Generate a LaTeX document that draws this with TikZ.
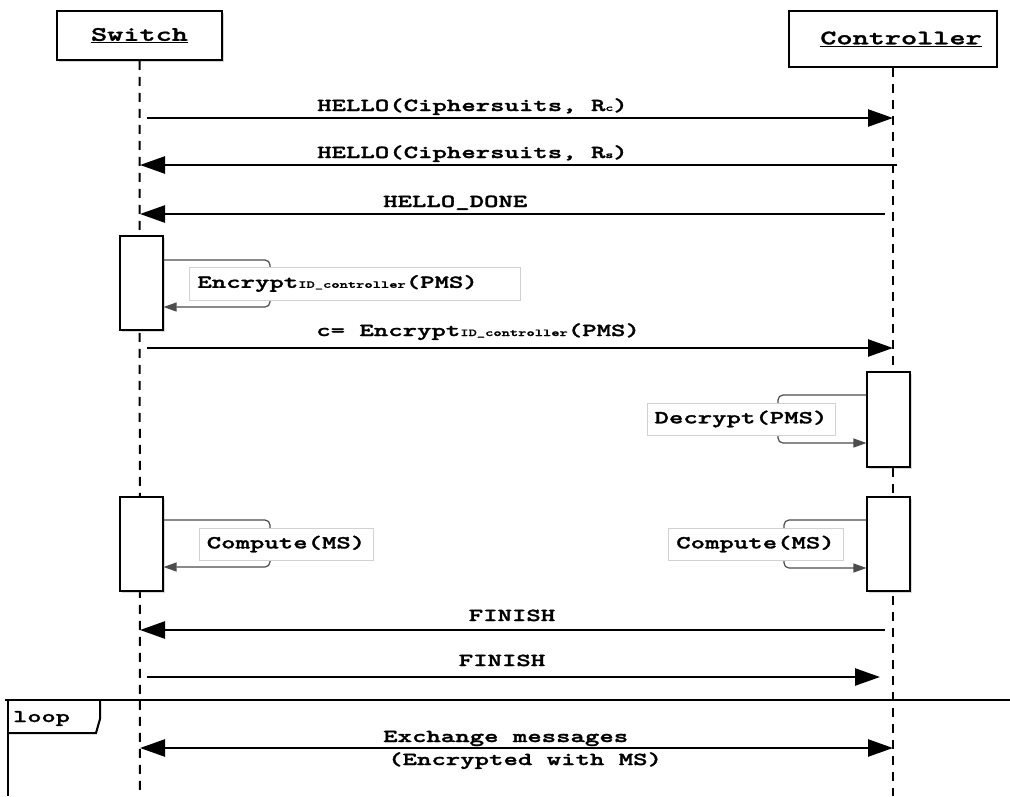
\documentclass[tikz,border=0pt]{standalone}
\usepackage{fontspec}
\newfontfamily\dmono[FakeStretch=1.5,FakeBold=1.6]{lmmonolt10-bold.otf}
\usetikzlibrary{arrows.meta,shadows}
\begin{document}
\begin{tikzpicture}[x=1pt,y=-1pt,
  lifeline/.style={line width=2pt, dash pattern=on 9pt off 7pt},
  msg/.style={line width=2.5pt, -{Triangle[length=25pt,width=17pt]}},
  dmsg/.style={line width=2.5pt, {Triangle[length=25pt,width=17pt]}-{Triangle[length=25pt,width=17pt]}},
  msglbl/.style={font=\dmono\fontsize{18.3}{21}\selectfont, inner sep=0pt},
  actor/.style={draw, line width=1.6pt, fill=white, inner sep=0pt, font=\dmono\fontsize{20.5}{23}\selectfont},
  actbox/.style={draw, line width=1.1pt, fill=white, inner sep=0pt, minimum width=43pt,
     drop shadow={shadow xshift=1.5pt, shadow yshift=-1.5pt, opacity=0.3}},
  selfcall/.style={line width=1.2pt, draw=black!70, rounded corners=5pt, -{Triangle[length=13pt,width=9pt]}},
  note/.style={draw=black!18, line width=0.8pt, fill=white, inner sep=0pt, minimum height=32pt,
     font=\dmono\fontsize{18.3}{21}\selectfont}
]
\useasboundingbox (0,0) rectangle (1010,796);
\fill[white] (0,0) rectangle (1010,796);

% actors
\node[actor, minimum width=165pt, minimum height=49pt,
      drop shadow={shadow xshift=1.5pt, shadow yshift=-1.5pt, opacity=0.35}] (sw) at (139.5,35.5) {\underline{Switch}};
\node[actor, minimum width=208pt, minimum height=56pt] (ct) at (893,39) {\hspace*{16pt}\underline{Controller}};

% lifelines
\coordinate (swend) at (140,796);
\coordinate (ctend) at (893,796);
\draw[lifeline] (sw.south) -- (swend);
\draw[lifeline] (ct.south) -- (ctend);

% message anchor points
\coordinate (s1) at (147,118);  \coordinate (c1) at (893,118);
\coordinate (s2) at (140,165);  \coordinate (c2) at (897,165);
\coordinate (s3) at (140,214);  \coordinate (c3) at (885,214);
\coordinate (s4) at (147,348);  \coordinate (c4) at (893,348);
\coordinate (s5) at (140,630);  \coordinate (c5) at (885,630);
\coordinate (s6) at (147,677);  \coordinate (c6) at (880,677);
\coordinate (s7) at (140,748);  \coordinate (c7) at (893,748);

\draw[msg] (s1) -- (c1);
\node[msglbl, anchor=base west] (l1) at (317,111) {HELLO(Ciphersuits, R{\fontsize{10}{10}\selectfont c})};
\draw[msg] (c2) -- (s2);
\node[msglbl, anchor=base west] (l2) at (317,158) {HELLO(Ciphersuits, R{\fontsize{10}{10}\selectfont s})};
\draw[msg] (c3) -- (s3);
\node[msglbl, anchor=base west] (l3) at (383,207) {HELLO\_DONE};

% switch activation 1
\node[actbox, minimum height=94pt] (sa1) at (141.5,283) {};
\draw[selfcall] ([yshift=23pt]sa1.east) -- (270,260) -- (270,307) -- ([yshift=-24pt]sa1.east);
\node[note, anchor=west, text width=315pt, inner xsep=8pt, align=left, minimum height=33pt] (n1) at (189,283.5)
  {Encrypt{\fontsize{10.5}{11}\selectfont ID\_controller}(PMS)};

\draw[msg] (s4) -- (c4);
\node[msglbl, anchor=base west] (l4) at (316,336) {c= Encrypt{\fontsize{10.5}{11}\selectfont ID\_controller}(PMS)};

% controller activation 1
\node[actbox, minimum height=95pt] (ca1) at (888.5,419.5) {};
\draw[selfcall] ([yshift=24.5pt]ca1.west) -- (778,395) -- (778,443) -- ([yshift=-23.5pt]ca1.west);
\node[note, minimum width=188pt] (n2) at (741,419) {Decrypt(PMS)};

% activation 2
\node[actbox, minimum height=94pt] (sa2) at (141.5,544) {};
\draw[selfcall] ([yshift=24pt]sa2.east) -- (270,520) -- (270,567) -- ([yshift=-23pt]sa2.east);
\node[note, minimum width=174pt] (n3) at (286,544) {Compute(MS)};

\node[actbox, minimum height=94pt] (ca2) at (888.5,544) {};
\draw[selfcall] ([yshift=24pt]ca2.west) -- (784,520) -- (784,568) -- ([yshift=-24pt]ca2.west);
\node[note, minimum width=175pt] (n4) at (755.5,544) {Compute(MS)};

% finish
\draw[msg] (c5) -- (s5);
\node[msglbl, anchor=base] (l5) at (512,621) {FINISH};
\draw[msg] (s6) -- (c6);
\node[msglbl, anchor=base] (l6) at (502,666) {FINISH};

% loop frame
\draw[line width=2.8pt] (5,700) -- (1010,700);
\draw[line width=2.8pt] (8,700) -- (8,796);
\draw[line width=2pt] (8,733) -- (96,733) -- (100,719) -- (100,700);
\node[font=\dmono\fontsize{18}{20}\selectfont, inner sep=0pt, anchor=base west] (lp) at (13,722) {loop};

\draw[dmsg] (s7) -- (c7);
\node[msglbl, anchor=base west] (l7a) at (383,742) {Exchange messages};
\node[msglbl, anchor=base west] (l7b) at (388,765) {(Encrypted with MS)};
\end{tikzpicture}
\end{document}
